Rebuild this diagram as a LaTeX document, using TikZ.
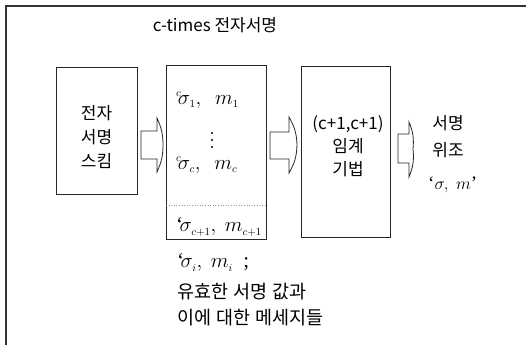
\documentclass[tikz,border=0pt]{standalone}
\usepackage{fontspec}
\setmainfont{Liberation Serif}
\newfontfamily\kr{Noto Sans CJK KR}
\newcommand\ssub[1]{_{\scriptscriptstyle #1}}
\newcommand\wsp{\hspace{5pt}}
\usetikzlibrary{calc}
\tikzset{
  frameline/.style={draw=black!80,line width=1.4pt},
  blockbox/.style={draw=black!85,line width=0.9pt,inner sep=0pt},
  barrow/.style={draw=black!85,line width=0.8pt,fill=white},
  krtext/.style={font=\kr\fontsize{17}{24}\selectfont,align=center,inner sep=0pt},
  krleft/.style={font=\kr\fontsize{18.5}{26}\selectfont,align=left,inner sep=0pt,anchor=west},
  mathtext/.style={font=\fontsize{21}{24}\selectfont,inner sep=0pt,anchor=west},
  sepline/.style={draw=black!40,dotted,line width=0.6pt},
  vdot/.style={fill=black,inner sep=0pt,minimum size=2.2pt,circle}
}
\begin{document}
\begin{tikzpicture}[x=1pt,y=-1pt]
\useasboundingbox (0,0) rectangle (526,345);
% frame (top and left edges visible)
\coordinate (ftl) at (6,6);
\coordinate (ftr) at (526,6);
\coordinate (fbl) at (6,345);
\draw[frameline] (ftr) -- (ftl) -- (fbl);
% title
\node[font=\kr\fontsize{17}{20}\selectfont,inner sep=0pt] (title) at (215,25) {c-times 전자서명};
% boxes
\node[blockbox,minimum width=81pt,minimum height=127pt] (b1) at (96.5,130.5) {};
\node[blockbox,minimum width=100pt,minimum height=174pt] (b2) at (216,152) {};
\node[blockbox,minimum width=89pt,minimum height=171pt] (b3) at (345.5,151.5) {};
% box 1 text
\node[krtext] (t1) at (96.5,137) {전자\\서명\\스킴};
% box 2 contents
\node[mathtext] (s1) at (176,100) {${}^{\scriptscriptstyle c}\!\sigma\ssub{1},\ \ m\ssub{1}$};
\node[vdot] (d1) at (212,133) {};
\node[vdot] (d2) at (212,140) {};
\node[vdot] (d3) at (212,147) {};
\node[mathtext] (sc) at (176,165) {${}^{\scriptscriptstyle c}\!\sigma\ssub{c},\ \ m\ssub{c}$};
\coordinate (sepl) at (166,205);
\coordinate (sepr) at (266,205);
\draw[sepline] (sepl) -- (sepr);
\node[mathtext] (sc1) at (176,227) {‘$\!\sigma\ssub{c+1},\ m\ssub{c+1}$};
% box 3 text
\node[krtext,font=\kr\fontsize{17}{23}\selectfont] (t3) at (348,146) {(c+1,c+1)\\임계\\기법};
% right text
\node[krtext,font=\kr\fontsize{17}{27}\selectfont] (t4) at (448,137) {서명\\위조};
\node[mathtext,font=\fontsize{19}{22}\selectfont] (sm) at (428,185) {‘$\sigma,\ m$’};
% bottom text
\node[mathtext] (si) at (177,263) {‘$\!\sigma\ssub{i},\ m\ssub{i}$\ \ ;};
\node[krleft] (t5) at (177,305) {유효한\wsp 서명\wsp 값과\\이에\wsp 대한\wsp 메세지들};
% block arrows
\draw[barrow] (141,131) -- (157,131) -- (157,118) to[bend left=12] (163,145)
  to[bend left=12] (157,172) -- (157,159) -- (141,159) -- cycle;
\draw[barrow] (270,132) -- (289,132) -- (289,117) to[bend left=14] (297,145)
  to[bend left=14] (289,173) -- (289,159) -- (270,159) -- cycle;
\draw[barrow] (398,134) -- (409,134) -- (409,122) to[bend left=14] (413,149)
  to[bend left=14] (409,177) -- (409,163) -- (398,163) -- cycle;
\end{tikzpicture}
\end{document}
